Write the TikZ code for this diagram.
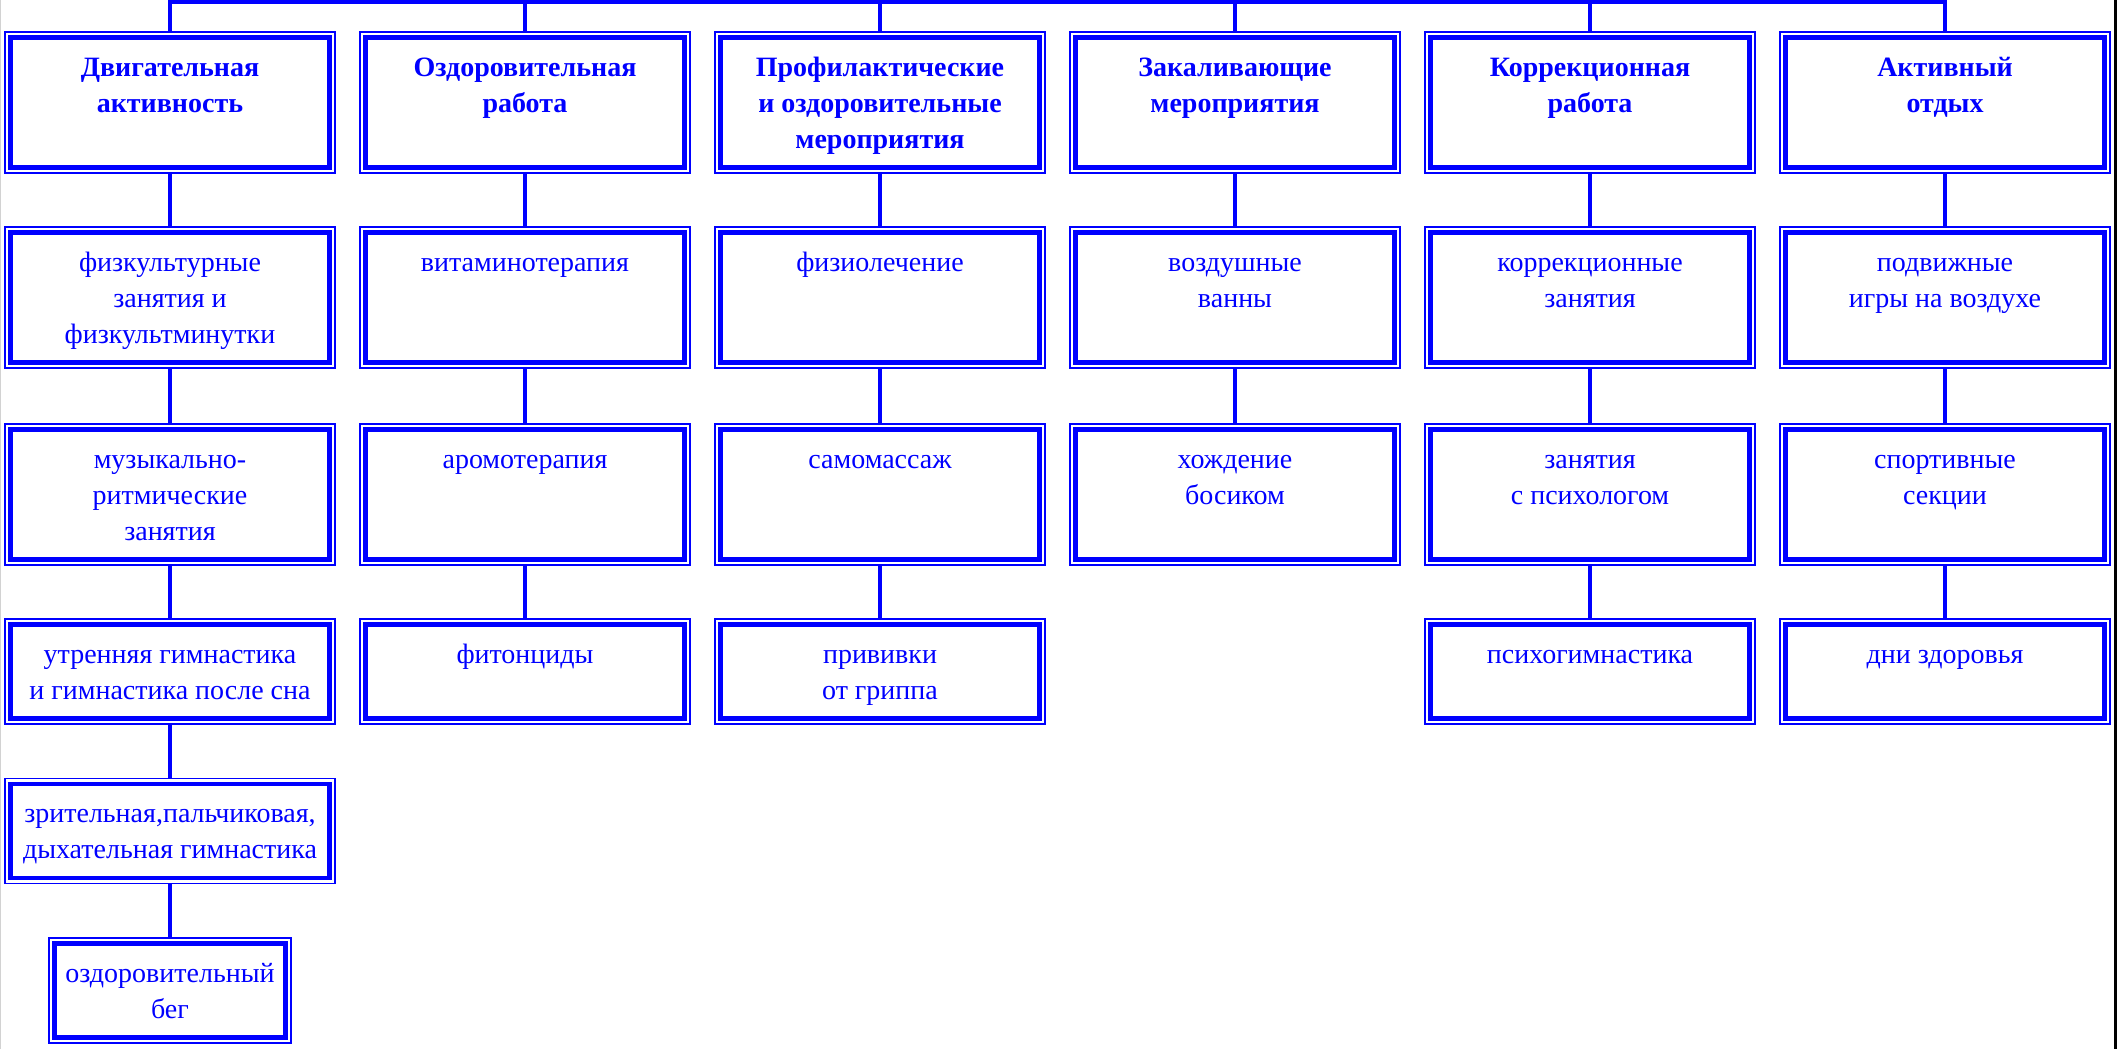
\documentclass[tikz,border=0pt]{standalone}
\usepackage{fontspec}
\setmainfont{Liberation Serif}
\definecolor{pblue}{RGB}{0,0,255}
\newcommand{\fst}{\rule{0pt}{24pt}}
\begin{document}
\begin{tikzpicture}[x=1pt,y=-1pt,
  box/.style={draw=pblue, line width=1.4pt, inner sep=0pt, minimum width=330pt},
  tall/.style={minimum height=141pt},
  short/.style={minimum height=105pt},
  innerline/.style={draw=pblue, line width=4.5pt},
  conn/.style={draw=pblue, line width=4pt},
  txt/.style={text=pblue, align=center, inner sep=0pt, anchor=north, font=\fontsize{28pt}{36pt}\selectfont},
  ttl/.style={text=pblue, align=center, inner sep=0pt, anchor=north, font=\fontsize{28pt}{36pt}\selectfont\bfseries}]
\useasboundingbox (0,0) rectangle (2119,1049);
\draw[gray!35, line width=1pt] (0.5,0) -- (0.5,1049);
\draw[black, line width=2.5pt] (2115.5,0) -- (2115.5,1049);

% boxes
\foreach \c/\x in {1/170,2/525,3/880,4/1235,5/1590,6/1945}{
  \node[box,tall] (a\c) at (\x,102.5) {};
  \node[box,tall] (b\c) at (\x,297.5) {};
}
\foreach \c/\x in {1/170,2/525,3/880,5/1590,6/1945}{
  \node[box,tall] (c\c) at (\x,494.5) {};
}
\node[box,tall] (c4) at (1235,494.5) {};
\foreach \c/\x in {1/170,2/525,3/880,5/1590,6/1945}{
  \node[box,short] (d\c) at (\x,671.5) {};
}
\node[box,short] (e1) at (170,831) {};
\node[box,short,minimum width=242pt] (f1) at (170,990.5) {};

\foreach \n in {a1,a2,a3,a4,a5,a6,b1,b2,b3,b4,b5,b6,c1,c2,c3,c4,c5,c6,d1,d2,d3,d5,d6,e1,f1}
  \draw[innerline] ([shift={(6.2pt,6.2pt)}]\n.south west) rectangle ([shift={(-6.2pt,-6.2pt)}]\n.north east);

% texts
\node[ttl] (ta1) at ([yshift=-20.5pt]a1.north) {\fst Двигательная\\активность};
\node[ttl] (ta2) at ([yshift=-20.5pt]a2.north) {\fst Оздоровительная\\работа};
\node[ttl] (ta3) at ([yshift=-20.5pt]a3.north) {\fst Профилактические\\и оздоровительные\\мероприятия};
\node[ttl] (ta4) at ([yshift=-20.5pt]a4.north) {\fst Закаливающие\\мероприятия};
\node[ttl] (ta5) at ([yshift=-20.5pt]a5.north) {\fst Коррекционная\\работа};
\node[ttl] (ta6) at ([yshift=-20.5pt]a6.north) {\fst Активный\\отдых};

\node[txt] (tb1) at ([yshift=-20.5pt]b1.north) {\fst физкультурные\\занятия и\\физкультминутки};
\node[txt] (tb2) at ([yshift=-20.5pt]b2.north) {\fst витаминотерапия};
\node[txt] (tb3) at ([yshift=-20.5pt]b3.north) {\fst физиолечение};
\node[txt] (tb4) at ([yshift=-20.5pt]b4.north) {\fst воздушные\\ванны};
\node[txt] (tb5) at ([yshift=-20.5pt]b5.north) {\fst коррекционные\\занятия};
\node[txt] (tb6) at ([yshift=-20.5pt]b6.north) {\fst подвижные\\игры на воздухе};

\node[txt] (tc1) at ([yshift=-20.5pt]c1.north) {\fst музыкально-\\ритмические\\занятия};
\node[txt] (tc2) at ([yshift=-20.5pt]c2.north) {\fst аромотерапия};
\node[txt] (tc3) at ([yshift=-20.5pt]c3.north) {\fst самомассаж};
\node[txt] (tc4) at ([yshift=-20.5pt]c4.north) {\fst хождение\\босиком};
\node[txt] (tc5) at ([yshift=-20.5pt]c5.north) {\fst занятия\\с психологом};
\node[txt] (tc6) at ([yshift=-20.5pt]c6.north) {\fst спортивные\\секции};

\node[txt] (td1) at ([yshift=-20.5pt]d1.north) {\fst утренняя гимнастика\\и гимнастика после сна};
\node[txt] (td2) at ([yshift=-20.5pt]d2.north) {\fst фитонциды};
\node[txt] (td3) at ([yshift=-20.5pt]d3.north) {\fst прививки\\от гриппа};
\node[txt] (td5) at ([yshift=-20.5pt]d5.north) {\fst психогимнастика};
\node[txt] (td6) at ([yshift=-20.5pt]d6.north) {\fst дни здоровья};

\node[txt] (te1) at ([yshift=-20.5pt]e1.north) {\fst зрительная,пальчиковая,\\дыхательная гимнастика};
\node[txt] (tf1) at ([yshift=-20.5pt]f1.north) {\fst оздоровительный\\бег};

% connectors
\foreach \c/\x in {1/170,2/525,3/880,4/1235,5/1590,6/1945}
  \coordinate (h\c) at (\x,2);
\draw[conn, line join=miter] (a1.north) -- (h1) -- (h6) -- (a6.north);
\foreach \c in {2,3,4,5}
  \draw[conn] (h\c) -- (a\c.north);
\foreach \c in {1,2,3,4,5,6}
  \draw[conn] (a\c.south) -- (b\c.north);
\foreach \c in {1,2,3,4,5,6}
  \draw[conn] (b\c.south) -- (c\c.north);
\foreach \c in {1,2,3,5,6}
  \draw[conn] (c\c.south) -- (d\c.north);
\draw[conn] (d1.south) -- (e1.north);
\draw[conn] (e1.south) -- (f1.north);
\end{tikzpicture}
\end{document}
